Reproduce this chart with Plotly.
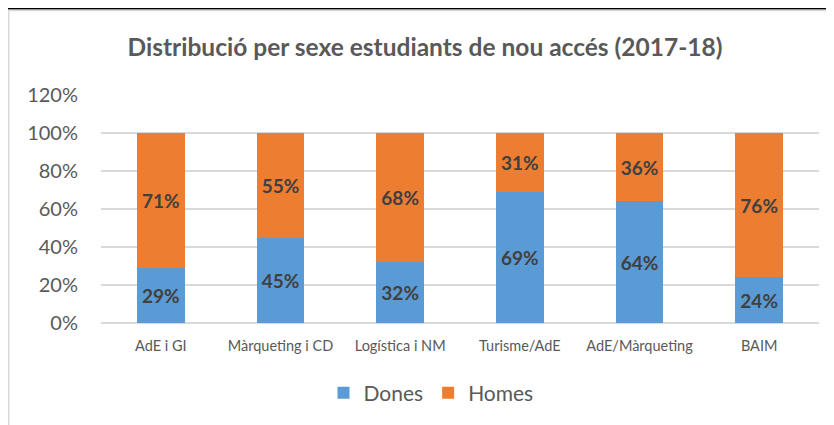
import plotly.graph_objects as go

categories = ["AdE i GI", "Màrqueting i CD", "Logística i NM", "Turisme/AdE", "AdE/Màrqueting", "BAIM"]
dones = [29, 45, 32, 69, 64, 24]
homes = [71, 55, 68, 31, 36, 76]
y_ticks = [0, 20, 40, 60, 80, 100, 120]

# page body has an 8px default margin; work in reference coordinates shifted by OFF
OFF = 8
W, H = 834 - OFF, 425 - OFF
L, R, T = 101 - OFF, 834 - 819, 95 - OFF
B = H - (323 - OFF)
pw, ph = W - L - R, H - T - B

def px(x):
    return (x - OFF - L) / pw

def py(y):
    return (H - B - (y - OFF)) / ph

FONT = "Lato"
fig = go.Figure()
fig.add_trace(go.Bar(
    name="Dones", x=categories, y=dones, marker_color="#5B9BD5",
    text=[f"{v}%" for v in dones], textposition="inside", insidetextanchor="middle",
    textfont=dict(family=FONT, size=19, color="#404040", weight="bold"),
    marker_line_width=0,
))
fig.add_trace(go.Bar(
    name="Homes", x=categories, y=homes, marker_color="#ED7D31",
    text=[f"{v}%" for v in homes], textposition="inside", insidetextanchor="middle",
    textfont=dict(family=FONT, size=19, color="#404040", weight="bold"),
    marker_line_width=0,
))

fig.update_layout(
    barmode="stack",
    bargap=0.6,
    width=W, height=H,
    margin=dict(l=L, r=R, t=T, b=B, autoexpand=False),
    paper_bgcolor="white", plot_bgcolor="white",
    font=dict(family=FONT, color="#595959"),
    title=dict(text="<b>Distribució per sexe estudiants de nou accés (2017-18)</b>",
               x=(425 - OFF) / W, xanchor="center", y=1 - (47 - OFF) / H, yanchor="middle",
               font=dict(family=FONT, size=24.5, color="#595959")),
    showlegend=True,
    legend=dict(orientation="h", x=px(431), xanchor="center", y=py(393), yanchor="middle",
                font=dict(family=FONT, size=21, color="#595959"), itemwidth=30,
                traceorder="normal"),
    uniformtext=dict(minsize=10, mode="show"),
    shapes=[
        dict(type="line", xref="paper", yref="paper", x0=px(0), x1=px(834), y0=py(8.5), y1=py(8.5),
             line=dict(color="black", width=2)),
        dict(type="line", xref="paper", yref="paper", x0=px(8), x1=px(834), y0=py(10.5), y1=py(10.5),
             line=dict(color="#D9D9D9", width=1.5)),
        dict(type="line", xref="paper", yref="paper", x0=px(8.75), x1=px(8.75), y0=py(10), y1=py(425),
             line=dict(color="#D9D9D9", width=1.5)),
    ],
)
fig.update_xaxes(tickfont=dict(family=FONT, size=14.5, color="#595959"), showgrid=False,
                 showline=False, ticks="", ticklabelstandoff=12)
fig.update_yaxes(range=[0, 120], tickvals=y_ticks, ticktext=[f"{v}%" for v in y_ticks],
                 tickfont=dict(family=FONT, size=20, color="#595959"),
                 showgrid=True, gridcolor="#D9D9D9", gridwidth=1.5, zeroline=True,
                 zerolinecolor="#D9D9D9", zerolinewidth=1.5, ticks="", ticklabelstandoff=22)
fig.write_html("out.html")
